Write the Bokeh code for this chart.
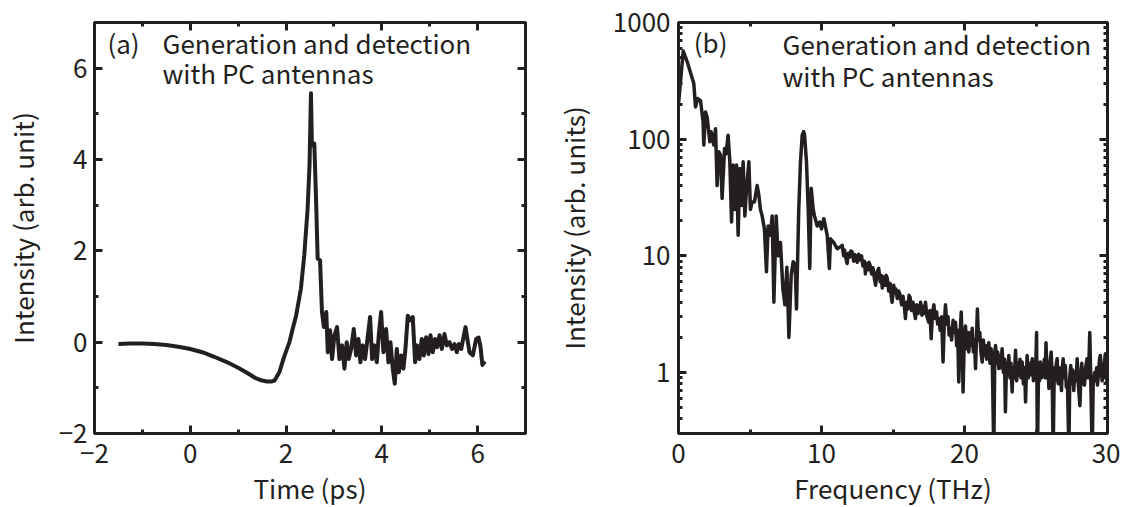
from bokeh.plotting import figure
from bokeh.models import FixedTicker, LinearAxis, LogAxis, Range1d, Label, CustomJSTickFormatter
from bokeh.layouts import row
from bokeh.embed import file_html
from bokeh.resources import INLINE

# ---------------- data ----------------
# (a) time-domain waveform
time_ps = [-1.5, -1.25, -1.0, -0.75, -0.5, -0.25, 0.0, 0.25, 0.5, 0.75, 1.0, 1.2, 1.35, 1.5, 1.6, 1.7, 1.76,
           1.86, 1.95, 2.07, 2.14, 2.21, 2.31, 2.38, 2.45, 2.49, 2.52, 2.54, 2.59, 2.63, 2.66, 2.71, 2.75, 2.79, 2.84,
           2.871, 2.919, 2.961, 3.010, 3.065, 3.114, 3.170, 3.219, 3.267, 3.309, 3.358, 3.414, 3.462, 3.511, 3.553,
           3.601, 3.650, 3.692, 3.755, 3.797, 3.845, 3.894, 3.936, 3.985, 4.033, 4.089, 4.138, 4.180, 4.228, 4.270,
           4.312, 4.354, 4.403, 4.451, 4.493, 4.542, 4.591, 4.646, 4.695, 4.737, 4.785, 4.834, 4.876, 4.925, 4.974,
           5.016, 5.064, 5.113, 5.155, 5.204, 5.253, 5.308, 5.357, 5.413, 5.468, 5.517, 5.566, 5.608, 5.657, 5.747,
           5.831, 5.900, 5.970, 6.02, 6.06, 6.10, 6.15]
signal_a = [-0.04, -0.03, -0.03, -0.04, -0.06, -0.10, -0.15, -0.22, -0.32, -0.43, -0.56, -0.68, -0.78, -0.84, -0.86, -0.86, -0.84,
            -0.66, -0.35, 0.0, 0.30, 0.58, 1.17, 1.90, 2.92, 3.87, 5.45, 4.31, 4.35, 3.00, 1.83, 1.79, 0.66, 0.33, 0.66,
            -0.22, 0.26, -0.37, 0.15, 0.33, -0.37, -0.07, -0.58, 0.0, -0.37, -0.15, 0.29, -0.29, 0.07, -0.44,
            -0.07, -0.37, 0.0, 0.55, -0.37, -0.07, -0.44, 0.15, 0.66, -0.22, 0.29, -0.44, 0.0, -0.58, -0.91,
            -0.15, -0.66, -0.29, -0.58, -0.15, 0.58, 0.48, 0.55, -0.44, -0.07, -0.37, 0.07, -0.29, 0.11, -0.26,
            0.15, -0.22, 0.07, -0.11, 0.15, -0.15, 0.18, -0.07, 0.0, -0.15, -0.04, -0.22, -0.04, -0.15, 0.33,
            -0.22, -0.29, 0.07, 0.10, -0.10, -0.50, -0.42]

# (b) amplitude spectrum
freq_thz = [0.0, 0.33, 0.61, 0.89, 1.07, 1.19, 1.35, 1.54, 1.72, 1.77, 1.89, 2.0, 2.19, 2.28, 2.47, 2.59, 2.70, 2.82,
            2.94, 3.05, 3.22, 3.33, 3.47, 3.59, 3.71, 3.82, 3.94, 4.06, 4.17, 4.29, 4.41, 4.52, 4.64, 4.76, 4.92, 5.03,
            5.15, 5.31, 5.50, 5.62, 5.73, 5.85, 6.01, 6.15, 6.27, 6.43, 6.55, 6.67, 6.83, 6.97, 7.13, 7.30, 7.44, 7.58,
            7.72, 7.88, 8.02, 8.16, 8.25, 8.41, 8.53, 8.65, 8.75, 8.81, 8.95, 9.07, 9.18, 9.28, 9.42, 9.51, 9.70, 9.88,
            10.0, 10.16, 10.40, 10.55, 10.63, 10.86, 11.1,
            11.33, 11.45, 11.55, 11.61, 11.70, 11.79, 11.88, 11.98, 12.05, 12.15, 12.25, 12.35, 12.42, 12.50, 12.60,
            12.70, 12.80, 12.90, 13.00, 13.07, 13.15, 13.25, 13.32, 13.40, 13.50, 13.60, 13.70, 13.78, 13.88, 14.00,
            14.10, 14.18, 14.25, 14.35, 14.45, 14.52, 14.60, 14.70, 14.80, 14.87, 14.94, 15.05, 15.12, 15.20, 15.30,
            15.40, 15.50, 15.60, 15.70, 15.80, 15.87, 15.95, 16.05, 16.12, 16.20, 16.30, 16.40, 16.48, 16.57, 16.65,
            16.75, 16.85, 16.93, 17.02, 17.10, 17.20, 17.27, 17.38, 17.50, 17.58, 17.67, 17.76, 17.86, 17.95, 18.05,
            18.12, 18.20, 18.30, 18.40, 18.50, 18.58, 18.67, 18.76, 18.85, 18.92, 19.00, 19.10, 19.20, 19.30, 19.37,
            19.45, 19.52, 19.60, 19.68, 19.77, 19.83, 19.90, 19.98, 20.07, 20.15, 20.22, 20.30, 20.40, 20.48, 20.54,
            20.62, 20.70, 20.77, 20.84, 20.90, 20.98, 21.07, 21.15, 21.24, 21.32, 21.40, 21.47, 21.55, 21.62, 21.70,
            21.78, 21.86, 21.94, 22.05, 22.12, 22.17, 22.25, 22.32, 22.40, 22.48, 22.55, 22.63, 22.72, 22.80, 22.86,
            22.94, 23.02, 23.10, 23.18, 23.25, 23.33, 23.40, 23.48, 23.57, 23.65, 23.72, 23.80, 23.88, 23.95, 24.03,
            24.12, 24.20, 24.27, 24.33, 24.38, 24.46, 24.53, 24.60, 24.67, 24.74, 24.82, 24.90, 24.97, 25.04, 25.10,
            25.18, 25.24, 25.30, 25.38, 25.44, 25.50, 25.58, 25.64, 25.70, 25.78, 25.84, 25.90, 25.98, 26.06, 26.13,
            26.20, 26.28, 26.35, 26.42, 26.48, 26.55, 26.62, 26.71, 26.78, 26.84, 26.90, 26.97, 27.05, 27.12, 27.20,
            27.30, 27.36, 27.43, 27.50, 27.57, 27.64, 27.72, 27.80, 27.88, 27.96, 28.07, 28.14, 28.20, 28.28, 28.33,
            28.39, 28.47, 28.57, 28.64, 28.70, 28.76, 28.82, 28.93, 29.00, 29.10, 29.18, 29.24, 29.30, 29.38, 29.44,
            29.50, 29.57, 29.63, 29.70, 29.78, 29.85, 29.92, 29.97]
spectrum_b = [200, 570, 460, 354, 300, 189, 223, 214, 141, 89, 171, 155, 95, 116, 89, 123, 40, 78,
              73, 31, 83, 75, 108, 64, 19.5, 60, 25, 60, 15, 56, 27, 64, 22, 38, 64, 25,
              29, 29, 40, 33, 25, 22, 17, 7.3, 18, 15, 22, 4.0, 22, 10, 13, 5.2, 3.8, 8.0,
              2.0, 6.8, 8.9, 8.4, 3.5, 25, 64, 108, 116, 110, 64, 25, 7.8, 38, 25, 22, 18, 19.5,
              17, 20.8, 15, 7.8, 14, 13, 11.5,
              12.0, 12.3, 10.0, 11.2, 9.6, 8.6, 10.5, 9.8, 11.0, 10.8, 9.0, 10.2, 9.4, 8.8, 10.3,
              9.2, 10.0, 8.2, 9.0, 7.0, 8.6, 7.6, 8.8, 8.3, 7.0, 7.9, 6.4, 5.6, 7.2, 7.8,
              6.0, 6.8, 5.3, 6.6, 5.6, 6.8, 6.4, 5.0, 5.8, 4.6, 4.0, 5.6, 4.8, 5.2, 4.3,
              5.0, 4.6, 3.8, 4.5, 3.6, 2.9, 4.0, 3.5, 4.6, 4.4, 3.4, 4.0, 3.3, 2.9, 3.8,
              3.2, 3.6, 4.0, 3.1, 3.7, 3.2, 4.0, 3.0, 2.7, 3.4, 1.95, 3.2, 3.8, 2.9, 3.3,
              2.6, 2.9, 2.3, 3.0, 1.23, 2.5, 3.8, 2.6, 3.0, 2.1, 2.4, 1.9, 2.8, 2.2, 2.7,
              1.7, 2.3, 0.83, 2.0, 3.3, 2.0, 0.68, 1.8, 2.5, 1.6, 2.2, 1.5, 2.2, 1.7, 2.4,
              1.5, 1.9, 1.08, 2.0, 3.5, 1.9, 2.2, 1.5, 1.23, 1.9, 1.4, 1.7, 1.3, 1.6, 1.8,
              1.2, 1.6, 1.31, 0.2, 1.5, 1.7, 1.2, 1.5, 1.08, 1.4, 1.1, 1.6, 1.0, 1.3, 0.46,
              1.2, 1.0, 1.4, 0.9, 1.2, 0.68, 1.1, 0.9, 1.55, 0.85, 1.2, 0.95, 1.3, 0.9, 1.23,
              0.8, 1.1, 0.56, 1.0, 1.4, 0.9, 1.2, 0.95, 1.1, 1.31, 0.85, 1.2, 1.0, 2.2, 0.2,
              1.1, 0.85, 1.23, 0.9, 1.1, 0.95, 1.3, 0.9, 1.8, 0.9, 1.2, 0.73, 1.2, 1.5, 0.9,
              0.2, 1.1, 0.85, 1.2, 1.31, 0.8, 1.1, 0.95, 0.7, 1.1, 1.31, 0.9, 1.15, 0.75, 0.83,
              0.2, 0.9, 1.15, 0.8, 1.05, 0.7, 1.0, 0.85, 1.31, 0.8, 0.52, 0.95, 1.2, 0.8, 1.0,
              0.78, 1.1, 1.31, 0.9, 1.2, 2.2, 1.0, 0.2, 0.8, 1.0, 0.85, 1.1, 0.78, 1.0, 1.3,
              1.4, 1.0, 0.85, 0.93, 1.2, 1.45, 1.0, 0.8]

# ticks
a_ticks = [-2, 0, 2, 4, 6]
a_tick_labels = ["\u22122", "0", "2", "4", "6"]
a_minor = [-1, 1, 3, 5]
b_xticks = [0, 10, 20, 30]
b_xtick_labels = ["0", "10", "20", "30"]
b_xminor = [5, 15, 25]
b_yticks = [1, 10, 100, 1000]
b_ytick_labels = ["1", "10", "100", "1000"]
b_yminor = [m * d for d in (0.1, 1, 10, 100) for m in range(2, 10) if 0.3 <= m * d <= 1000]

FONT = "Noto Sans CJK JP"
INK = "#231f20"
FS = "26px"


def style_axis(ax):
    ax.axis_line_width = 3
    ax.axis_line_color = INK
    ax.major_tick_in = 8
    ax.major_tick_out = 0
    ax.minor_tick_in = 4
    ax.minor_tick_out = 0
    ax.major_tick_line_width = 3
    ax.minor_tick_line_width = 3
    ax.major_tick_line_color = INK
    ax.minor_tick_line_color = INK
    ax.major_label_text_font = FONT
    ax.major_label_text_font_size = FS
    ax.major_label_text_color = INK
    ax.axis_label_text_font = FONT
    ax.axis_label_text_font_size = FS
    ax.axis_label_text_font_style = "normal"
    ax.axis_label_text_color = INK


def mirror(p, side, ticker, cls):
    ax = cls(ticker=ticker, formatter=CustomJSTickFormatter(code="return ''"))
    style_axis(ax)
    ax.major_label_standoff = 0
    p.add_layout(ax, side)


def base(p):
    p.xgrid.visible = False
    p.ygrid.visible = False
    p.outline_line_color = INK
    p.outline_line_width = 3
    p.outline_line_alpha = 1.0
    p.background_fill_color = "white"
    p.border_fill_color = "white"


# ---------------- panel (a) ----------------
p1 = figure(frame_width=431, frame_height=411, x_range=Range1d(-2, 7), y_range=Range1d(-2, 7),
            output_backend="svg", toolbar_location=None,
            min_border_left=86, min_border_right=19, min_border_top=22, min_border_bottom=68)
base(p1)
p1.line(time_ps, signal_a, line_color=INK, line_width=4, line_join="round")
p1.xaxis.ticker = FixedTicker(ticks=a_ticks, minor_ticks=a_minor)
p1.yaxis.ticker = FixedTicker(ticks=a_ticks, minor_ticks=a_minor)
p1.xaxis.major_label_overrides = dict(zip(a_ticks, a_tick_labels))
p1.yaxis.major_label_overrides = dict(zip(a_ticks, a_tick_labels))
p1.xaxis.axis_label = "Time (ps)"
p1.yaxis.axis_label = "Intensity (arb. unit)"
for ax in p1.xaxis + p1.yaxis:
    style_axis(ax)
p1.xaxis.major_label_standoff = 10
p1.xaxis.axis_label_standoff = 3
p1.yaxis.major_label_standoff = 7
p1.yaxis.axis_label_standoff = 15
mirror(p1, "above", FixedTicker(ticks=a_ticks, minor_ticks=a_minor), LinearAxis)
mirror(p1, "right", FixedTicker(ticks=a_ticks, minor_ticks=a_minor), LinearAxis)

for txt, x, y in [("(a)", -1.73, 6.56), ("Generation and detection", -0.58, 6.56), ("with PC antennas", -0.58, 5.90)]:
    p1.add_layout(Label(x=x, y=y, text=txt, text_font=FONT, text_font_size=FS, text_color=INK,
                        text_baseline="alphabetic", text_align="left"))

# ---------------- panel (b) ----------------
p2 = figure(frame_width=429, frame_height=411, x_range=Range1d(0, 30), y_range=Range1d(0.3, 1000),
            y_axis_type="log", output_backend="svg", toolbar_location=None,
            min_border_left=134, min_border_right=13, min_border_top=22, min_border_bottom=68)
base(p2)
p2.line(freq_thz, spectrum_b, line_color=INK, line_width=3.5, line_join="round")
p2.xaxis.ticker = FixedTicker(ticks=b_xticks, minor_ticks=b_xminor)
p2.yaxis.ticker = FixedTicker(ticks=b_yticks, minor_ticks=b_yminor)
p2.xaxis.major_label_overrides = dict(zip(b_xticks, b_xtick_labels))
p2.yaxis.major_label_overrides = dict(zip(b_yticks, b_ytick_labels))
p2.xaxis.axis_label = "Frequency (THz)"
p2.yaxis.axis_label = "Intensity (arb. units)"
for ax in p2.xaxis + p2.yaxis:
    style_axis(ax)
p2.xaxis.major_label_standoff = 10
p2.xaxis.axis_label_standoff = 3
p2.yaxis.major_label_standoff = 8
p2.yaxis.axis_label_standoff = 18
mirror(p2, "above", FixedTicker(ticks=b_xticks, minor_ticks=b_xminor), LinearAxis)
mirror(p2, "right", FixedTicker(ticks=b_yticks, minor_ticks=b_yminor), LogAxis)

for txt, x, y in [("(b)", 1.07, 681), ("Generation and detection", 7.27, 655), ("with PC antennas", 7.27, 348)]:
    p2.add_layout(Label(x=x, y=y, text=txt, text_font=FONT, text_font_size=FS, text_color=INK,
                        text_baseline="alphabetic", text_align="left"))

layout = row(p1, p2)
open("out.html", "w").write(file_html(layout, INLINE))
